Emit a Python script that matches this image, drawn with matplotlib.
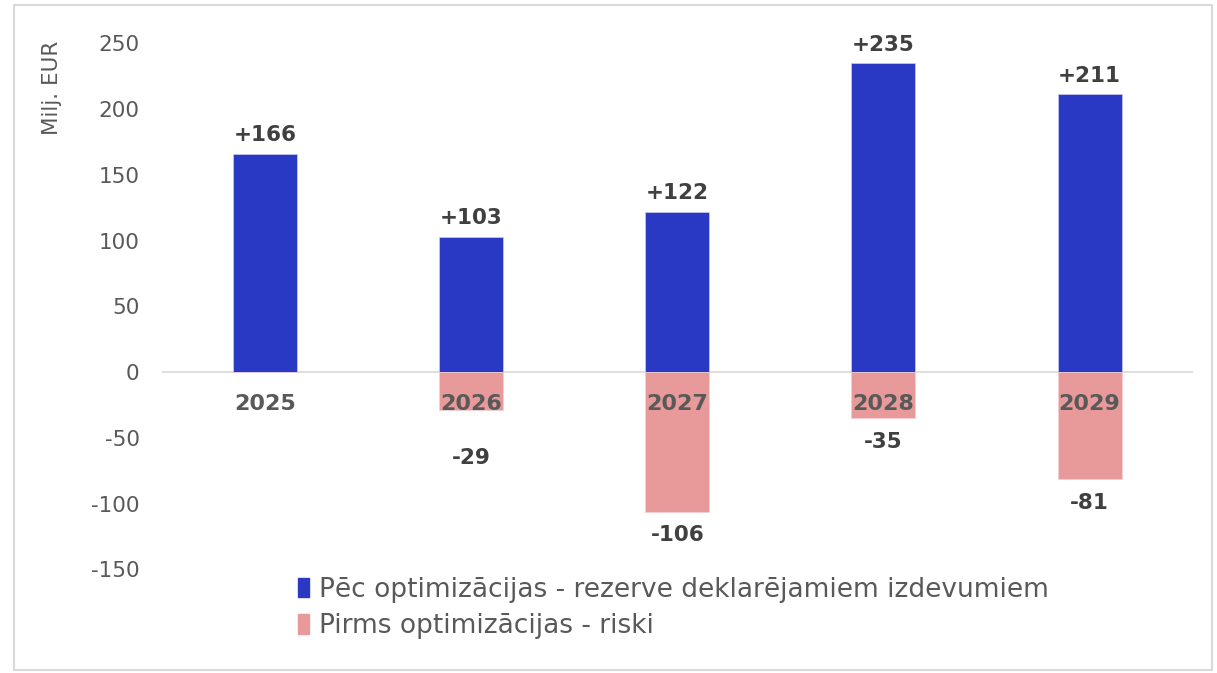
import matplotlib.pyplot as plt
from matplotlib.patches import Patch, Rectangle

# Data
years = ["2025", "2026", "2027", "2028", "2029"]
after_opt = [166, 103, 122, 235, 211]
before_risk = [0, -29, -106, -35, -81]
after_labels = ["+166", "+103", "+122", "+235", "+211"]
risk_labels = ["", "-29", "-106", "-35", "-81"]
yticks = [-150, -100, -50, 0, 50, 100, 150, 200, 250]

blue = "#2939C4"
pink = "#E79A99"
dark = "#404040"
grey = "#595959"

plt.rcParams['font.family'] = ['DejaVu Sans']

fig = plt.figure(figsize=(12.17, 6.73), dpi=100)
ax = fig.add_axes([0.133, 0.1343, 0.847, 0.8211])

x = range(len(years))
w = 0.31
ax.bar(x, after_opt, width=w, color=blue, edgecolor="#c9cdf0", linewidth=0.5, zorder=2)
ax.bar(x, before_risk, width=w, color=pink, edgecolor="#f3d0d0", linewidth=0.5, zorder=2)

ax.set_xlim(-0.5, 4.5)
ax.set_ylim(-160, 260)
ax.axhline(0, color="#d9d9d9", linewidth=1.2, zorder=1)

# value labels
for i, v in enumerate(after_opt):
    ax.annotate(after_labels[i], (i, v), xytext=(0, 6), textcoords="offset points",
                ha="center", va="bottom", fontsize=15.5, fontweight="bold", color=dark)
for i, v in enumerate(before_risk):
    if not risk_labels[i]:
        continue
    # the small 2026 bar gets its label pushed below the year label
    off = -27 if i == 1 else -10
    ax.annotate(risk_labels[i], (i, v), xytext=(0, off), textcoords="offset points",
                ha="center", va="top", fontsize=15.5, fontweight="bold", color=dark)

# category labels just below the zero line
for i, yr in enumerate(years):
    ax.annotate(yr, (i, 0), xytext=(0, -16), textcoords="offset points",
                ha="center", va="top", fontsize=16, fontweight="bold", color=grey, zorder=3)

ax.set_xticks([])
ax.set_yticks(yticks)
ax.set_yticklabels([str(t) for t in yticks], fontsize=15.5, color=grey)
ax.tick_params(axis="y", length=0, pad=16)
for s in ax.spines.values():
    s.set_visible(False)

fig.text(52 / 1217, 1 - 88 / 673, "Milj. EUR", rotation=90, ha="center", va="center",
         fontsize=15.5, color=grey)

handles = [Patch(facecolor=blue, edgecolor=blue),
           Patch(facecolor=pink, edgecolor=pink)]
labels = ["Pēc optimizācijas - rezerve deklarējamiem izdevumiem",
          "Pirms optimizācijas - riski"]
fig.legend(handles, labels, loc="upper left", bbox_to_anchor=(287 / 1217, 1 - 566 / 673),
           frameon=False, fontsize=19, handlelength=0.45, handleheight=0.75,
           handletextpad=0.35, labelspacing=0.4, labelcolor=grey, borderaxespad=0)

fig.patches.append(Rectangle((14 / 1217, 3 / 673), 1198 / 1217, 665 / 673,
                             transform=fig.transFigure, fill=False,
                             edgecolor="#d9d9d9", linewidth=1.5))

fig.savefig("out.png", dpi=100)
